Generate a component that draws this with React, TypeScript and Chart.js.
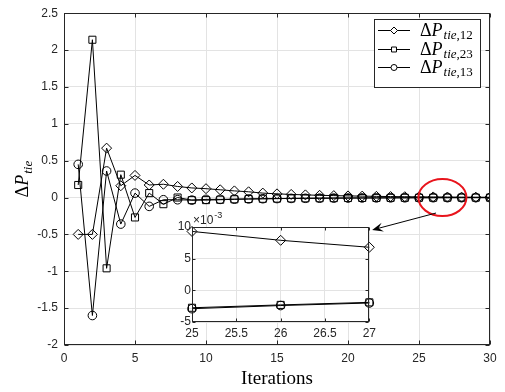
import React, { useEffect, useRef } from "react";
import { Chart, registerables } from "chart.js";
Chart.register(...registerables);

const iterations = [1, 2, 3, 4, 5, 6, 7, 8, 9, 10, 11, 12, 13, 14, 15, 16, 17, 18, 19, 20, 21, 22, 23, 24, 25, 26, 27, 28, 29, 30];
const dP12 = [-0.5, -0.5, 0.67, 0.16, 0.3, 0.17, 0.18, 0.15, 0.13, 0.12, 0.105, 0.09, 0.078, 0.06, 0.05, 0.042, 0.036, 0.03, 0.026, 0.022, 0.019, 0.016, 0.013, 0.011, 0.0093, 0.0079, 0.0068, 0.0057, 0.0048, 0.004];
const dP23 = [0.17, 2.14, -0.96, 0.31, -0.27, 0.06, -0.09, 0.0, -0.035, -0.035, -0.03, -0.024, -0.02, -0.017, -0.0145, -0.0125, -0.0108, -0.0093, -0.008, -0.0069, -0.006, -0.0051, -0.0043, -0.0036, -0.00275, -0.0023, -0.0019, -0.0016, -0.0014, -0.0012];
const dP13 = [0.45, -1.6, 0.36, -0.36, 0.06, -0.12, -0.03, -0.03, -0.035, -0.025, -0.025, -0.022, -0.019, -0.016, -0.014, -0.012, -0.0103, -0.0089, -0.0077, -0.0066, -0.0057, -0.0049, -0.0042, -0.0035, -0.0029, -0.0024, -0.002, -0.0017, -0.0015, -0.0013];
const seriesSubs = ["12", "23", "13"];
const seriesMarkers = ["rectRot", "rect", "circle"];
const seriesRadius = [5, 5, 4.3];
const xTicks = [0, 5, 10, 15, 20, 25, 30];
const yTicks = [-2, -1.5, -1, -0.5, 0, 0.5, 1, 1.5, 2, 2.5];
const insetStart = 25;
const insetEnd = 27;
const insetXTicks = [25, 25.5, 26, 26.5, 27];
const insetYTicks = [-0.005, 0, 0.005, 0.01];
const xLabel = "Iterations";

const AX = "#262626";
const GRID = "#e3e3e3";
const TICKFONT = { family: "'Liberation Sans', Arial, sans-serif", size: 12 };
const SERIF = "'Liberation Serif', 'Times New Roman', serif";

function boxTicks(chart: any, len: number) {
  const { ctx, chartArea: a, scales } = chart;
  ctx.save();
  ctx.strokeStyle = AX;
  ctx.lineWidth = 1;
  const L = Math.round(a.left) + 0.5, R = Math.round(a.right) - 0.5;
  const T = Math.round(a.top) + 0.5, B = Math.round(a.bottom) - 0.5;
  ctx.strokeRect(L, T, R - L, B - T);
  ctx.beginPath();
  scales.x.ticks.forEach((t: any) => {
    const p = Math.round(scales.x.getPixelForValue(t.value)) + 0.5;
    ctx.moveTo(p, B); ctx.lineTo(p, B - len);
    ctx.moveTo(p, T); ctx.lineTo(p, T + len);
  });
  scales.y.ticks.forEach((t: any) => {
    const p = Math.round(scales.y.getPixelForValue(t.value)) + 0.5;
    ctx.moveTo(L, p); ctx.lineTo(L + len, p);
    ctx.moveTo(R, p); ctx.lineTo(R - len, p);
  });
  ctx.stroke();
  ctx.restore();
}

function marker(ctx: CanvasRenderingContext2D, style: string, r: number, x: number, y: number) {
  ctx.beginPath();
  if (style === "rectRot") {
    ctx.moveTo(x, y - r); ctx.lineTo(x + r, y); ctx.lineTo(x, y + r); ctx.lineTo(x - r, y); ctx.closePath();
  } else if (style === "rect") {
    const s = r * Math.SQRT1_2;
    ctx.rect(x - s, y - s, 2 * s, 2 * s);
  } else {
    ctx.arc(x, y, r, 0, Math.PI * 2);
  }
  ctx.fill();
  ctx.stroke();
}

function drawDeltaP(ctx: CanvasRenderingContext2D, x: number, y: number, size: number, sub: string, align: string) {
  const big = `${size}px ${SERIF}`;
  const bigI = `italic ${size}px ${SERIF}`;
  const small = Math.round(size * 0.7);
  const smI = `italic ${small}px ${SERIF}`;
  const sm = `${small}px ${SERIF}`;
  ctx.font = big; const w1 = ctx.measureText("\u0394").width;
  ctx.font = bigI; const w2 = ctx.measureText("P").width;
  ctx.font = smI; const w3 = ctx.measureText("tie").width;
  ctx.font = sm; const w4 = sub ? ctx.measureText("," + sub).width : 0;
  const total = w1 + w2 + w3 + w4 + 1;
  let cx = align === "center" ? x - total / 2 : x;
  ctx.textAlign = "left";
  ctx.textBaseline = "alphabetic";
  ctx.font = big; ctx.fillText("\u0394", cx, y); cx += w1;
  ctx.font = bigI; ctx.fillText("P", cx, y); cx += w2 + 1;
  ctx.font = smI; ctx.fillText("tie", cx, y + size * 0.22); cx += w3;
  if (sub) { ctx.font = sm; ctx.fillText("," + sub, cx, y + size * 0.22); }
  return total;
}

function makeDatasets(xs: number[], cols: number[][]) {
  return cols.map((vals, k) => ({
    label: "dP" + seriesSubs[k],
    data: xs.map((x, i) => ({ x, y: vals[i] })),
    borderColor: "#000",
    borderWidth: 1,
    pointStyle: seriesMarkers[k],
    pointRadius: seriesRadius[k],
    pointBorderColor: "#000",
    pointBackgroundColor: "rgba(0,0,0,0)",
    pointBorderWidth: 1,
    tension: 0,
    fill: false,
  }));
}

const mainPlugin = {
  id: "mainDeco",
  afterDatasetsDraw(chart: any) {
    boxTicks(chart, 4);
  },
  afterDraw(chart: any) {
    const { ctx, chartArea: a, scales } = chart;
    ctx.save();
    ctx.fillStyle = "#000";
    ctx.font = `19px ${SERIF}`;
    ctx.textAlign = "center";
    ctx.textBaseline = "alphabetic";
    ctx.fillText(xLabel, (a.left + a.right) / 2, 384);
    ctx.save();
    ctx.translate(28, (a.top + a.bottom) / 2);
    ctx.rotate(-Math.PI / 2);
    drawDeltaP(ctx, 0, 0, 18, "", "center");
    ctx.restore();
    const ex = scales.x.getPixelForValue(26.65);
    const ey = scales.y.getPixelForValue(0);
    ctx.strokeStyle = "#e8141c";
    ctx.lineWidth = 2;
    ctx.beginPath();
    ctx.ellipse(ex, ey, 24, 18.5, 0, 0, Math.PI * 2);
    ctx.stroke();
    const x0 = scales.x.getPixelForValue(26.2), y0 = scales.y.getPixelForValue(-0.21);
    const x1 = scales.x.getPixelForValue(21.7), y1 = scales.y.getPixelForValue(-0.44);
    const ang = Math.atan2(y1 - y0, x1 - x0);
    ctx.strokeStyle = "#000";
    ctx.fillStyle = "#000";
    ctx.lineWidth = 1;
    ctx.beginPath();
    ctx.moveTo(x0, y0);
    ctx.lineTo(x1 - Math.cos(ang) * 6, y1 - Math.sin(ang) * 6);
    ctx.stroke();
    const hl = 11, hw = 4.5;
    const bx = x1 - Math.cos(ang) * hl, by = y1 - Math.sin(ang) * hl;
    const nx = -Math.sin(ang), ny = Math.cos(ang);
    ctx.beginPath();
    ctx.moveTo(x1, y1);
    ctx.lineTo(bx + nx * hw, by + ny * hw);
    ctx.lineTo(x1 - Math.cos(ang) * hl * 0.6, y1 - Math.sin(ang) * hl * 0.6);
    ctx.lineTo(bx - nx * hw, by - ny * hw);
    ctx.closePath();
    ctx.fill();
    const lx = 374, ly = 19, lw = 106, lh = 68;
    ctx.fillStyle = "#fff";
    ctx.fillRect(lx, ly, lw, lh);
    ctx.strokeStyle = AX;
    ctx.strokeRect(lx + 0.5, ly + 0.5, lw, lh);
    const rows = [30, 49, 67];
    chart.data.datasets.forEach((ds: any, k: number) => {
      const ry = rows[k] + 0.5;
      ctx.strokeStyle = "#000";
      ctx.lineWidth = 1;
      ctx.beginPath();
      ctx.moveTo(378, ry);
      ctx.lineTo(410, ry);
      ctx.stroke();
      ctx.fillStyle = "#fff";
      marker(ctx, ds.pointStyle, ds.pointRadius * 0.7, 394, ry);
      ctx.fillStyle = "#000";
      drawDeltaP(ctx, 420, ry + 5, 18, seriesSubs[k], "left");
    });
    ctx.restore();
  },
};

const insetPlugin = {
  id: "insetDeco",
  beforeDraw(chart: any) {
    const { ctx, chartArea: a } = chart;
    ctx.save();
    ctx.fillStyle = "#fff";
    ctx.fillRect(a.left, a.top, a.right - a.left, a.bottom - a.top);
    ctx.restore();
  },
  afterDatasetsDraw(chart: any) {
    boxTicks(chart, 3);
  },
  afterDraw(chart: any) {
    const { ctx, chartArea: a } = chart;
    ctx.save();
    ctx.fillStyle = AX;
    ctx.textAlign = "left";
    ctx.textBaseline = "alphabetic";
    ctx.font = `12px 'Liberation Sans', Arial, sans-serif`;
    ctx.fillText("\u00d710", a.left + 1, a.top - 3);
    const w = ctx.measureText("\u00d710").width;
    ctx.font = `9px 'Liberation Sans', Arial, sans-serif`;
    ctx.fillText("-3", a.left + 1 + w + 1, a.top - 9);
    ctx.restore();
  },
};

export default function App() {
  const mainRef = useRef<HTMLCanvasElement>(null);
  const insetRef = useRef<HTMLCanvasElement>(null);
  useEffect(() => {
    const main = new Chart(mainRef.current as HTMLCanvasElement, {
      type: "line",
      data: { datasets: makeDatasets(iterations, [dP12, dP23, dP13]) as any },
      options: {
        animation: false,
        responsive: false,
        maintainAspectRatio: false,
        devicePixelRatio: 1,
        layout: { padding: { left: 0, right: 15, top: 11, bottom: 0 } },
        plugins: { legend: { display: false }, tooltip: { enabled: false } },
        scales: {
          x: {
            type: "linear", min: 0, max: 30,
            afterBuildTicks: (s: any) => { s.ticks = xTicks.map((v) => ({ value: v })); },
            afterFit: (s: any) => { s.height = 47; },
            grid: { color: GRID, drawTicks: false },
            border: { display: false },
            ticks: { padding: 6, color: AX, font: TICKFONT, maxRotation: 0, callback: (v: any) => String(v) },
          },
          y: {
            type: "linear", min: -2, max: 2.5,
            afterBuildTicks: (s: any) => { s.ticks = yTicks.map((v) => ({ value: v })); },
            afterFit: (s: any) => { s.width = 64; },
            grid: { color: GRID, drawTicks: false },
            border: { display: false },
            ticks: { padding: 6, color: AX, font: TICKFONT, callback: (v: any) => String(v) },
          },
        },
      },
      plugins: [mainPlugin],
    } as any);
    const i0 = iterations.indexOf(insetStart);
    const i1 = iterations.indexOf(insetEnd) + 1;
    const inset = new Chart(insetRef.current as HTMLCanvasElement, {
      type: "line",
      data: {
        datasets: makeDatasets(iterations.slice(i0, i1), [dP12.slice(i0, i1), dP23.slice(i0, i1), dP13.slice(i0, i1)]) as any,
      },
      options: {
        animation: false,
        responsive: false,
        maintainAspectRatio: false,
        devicePixelRatio: 1,
        clip: false,
        layout: { padding: { left: 0, right: 10, top: 22, bottom: 0 } },
        plugins: { legend: { display: false }, tooltip: { enabled: false } },
        scales: {
          x: {
            type: "linear", min: insetStart, max: insetEnd,
            afterBuildTicks: (s: any) => { s.ticks = insetXTicks.map((v) => ({ value: v })); },
            afterFit: (s: any) => { s.height = 28; },
            grid: { color: GRID, drawTicks: false },
            border: { display: false },
            ticks: { padding: 4, color: AX, font: TICKFONT, maxRotation: 0, autoSkip: false, callback: (v: any) => String(v) },
          },
          y: {
            type: "linear", min: -0.005, max: 0.01,
            afterBuildTicks: (s: any) => { s.ticks = insetYTicks.map((v) => ({ value: v })); },
            afterFit: (s: any) => { s.width = 42; },
            grid: { color: GRID, drawTicks: false },
            border: { display: false },
            ticks: { padding: 1, color: AX, font: TICKFONT, callback: (v: any) => String(Math.round(v * 1000)) },
          },
        },
      },
      plugins: [insetPlugin],
    } as any);
    return () => { main.destroy(); inset.destroy(); };
  }, []);
  return (
    <div style={{ position: "fixed", left: 0, top: 0, width: 505, height: 392, background: "#fff" }}>
      <canvas ref={mainRef} width={505} height={392} style={{ position: "absolute", left: 0, top: 0, width: 505, height: 392 }} />
      <canvas ref={insetRef} width={230} height={145} style={{ position: "absolute", left: 150, top: 205, width: 230, height: 145 }} />
    </div>
  );
}
